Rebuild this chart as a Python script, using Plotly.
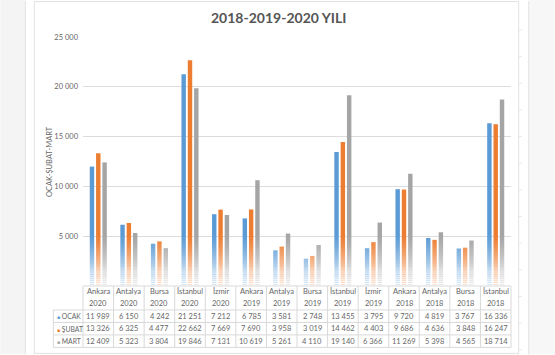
import plotly.graph_objects as go

cities = ["Ankara", "Antalya", "Bursa", "İstanbul", "İzmir",
          "Ankara", "Antalya", "Bursa", "İstanbul", "İzmir",
          "Ankara", "Antalya", "Bursa", "İstanbul"]
years = ["2020", "2020", "2020", "2020", "2020",
         "2019", "2019", "2019", "2019", "2019",
         "2018", "2018", "2018", "2018"]
ocak = [11989, 6150, 4242, 21251, 7212, 6785, 3581, 2748, 13455, 3795, 9720, 4819, 3767, 16336]
subat = [13326, 6325, 4477, 22662, 7669, 7690, 3958, 3019, 14462, 4403, 9686, 4636, 3848, 16247]
mart = [12409, 5323, 3804, 19846, 7131, 10619, 5261, 4110, 19140, 6366, 11269, 5398, 4565, 18714]
series_names = ["OCAK", "ŞUBAT", "MART"]
series_colors = ["#5b9bd5", "#ed7d31", "#a5a5a5"]
ytick_vals = [5000, 10000, 15000, 20000, 25000]
ytick_text = ["5 000", "10 000", "15 000", "20 000", "25 000"]

W, H = 555, 355
L, R, T, B = 82.7, 43.7, 37, 68.5
PW, PH = W - L - R, H - T - B
FONT = "Lato"
TXT = "#666666"


def px(x):
    return (x - L) / PW


def py(y):
    return (H - B - y) / PH


def fmt(v):
    return f"{v:,}".replace(",", " ")


cats = [f"{c} {y}" for c, y in zip(cities, years)]
n = len(cats)
colw = PW / n

fig = go.Figure()
for name, vals, col in zip(series_names, [ocak, subat, mart], series_colors):
    fig.add_trace(go.Bar(x=cats, y=vals, name=name, marker=dict(color=col, line=dict(width=0))))

shapes = []
# page background strips
shapes.append(dict(type="rect", xref="paper", yref="paper", x0=px(0), x1=px(25), y0=py(H), y1=py(0),
                   fillcolor="#f4f4f4", line=dict(width=0), layer="below"))
shapes.append(dict(type="rect", xref="paper", yref="paper", x0=px(529), x1=px(W), y0=py(H), y1=py(0),
                   fillcolor="#f7f7f7", line=dict(width=0), layer="below"))
for xv in [25, 34, 519, 529]:
    shapes.append(dict(type="line", xref="paper", yref="paper", x0=px(xv), x1=px(xv), y0=py(1), y1=py(H),
                       line=dict(color="#e2e2e2", width=1), layer="below"))
shapes.append(dict(type="line", xref="paper", yref="paper", x0=px(34), x1=px(519), y0=py(1.5), y1=py(1.5),
                   line=dict(color="#e2e2e2", width=1), layer="below"))
shapes.append(dict(type="line", xref="paper", yref="paper", x0=px(34), x1=px(519), y0=py(354), y1=py(354),
                   line=dict(color="#e2e2e2", width=1), layer="below"))
for k in range(13):
    yy = 30 + 26.7 * k
    shapes.append(dict(type="line", xref="paper", yref="paper", x0=px(519), x1=px(522), y0=py(yy), y1=py(yy),
                       line=dict(color="#e6e6e6", width=1), layer="below"))

# fade of bars toward the base
nsl = 26
top_v, bot_v = 5200, 150
for i in range(nsl):
    v0 = bot_v + (top_v - bot_v) * i / nsl
    v1 = bot_v + (top_v - bot_v) * (i + 1) / nsl
    op = 1 - (i + 0.5) / nsl
    shapes.append(dict(type="rect", xref="paper", yref="y", x0=0, x1=1, y0=v0, y1=v1,
                       fillcolor="white", opacity=op ** 1.3, line=dict(width=0), layer="above"))
shapes.append(dict(type="rect", xref="paper", yref="y", x0=0, x1=1, y0=0, y1=bot_v,
                   fillcolor="white", line=dict(width=0), layer="above"))

# data table grid
gc = "#d9d9d9"
row_lines = [310.5, 323, 335.5, 348]
tbl_left = 53
shapes.append(dict(type="line", xref="paper", yref="paper", x0=px(L), x1=px(L + PW), y0=py(286.5), y1=py(286.5),
                   line=dict(color=gc, width=1), layer="above"))
for ry in row_lines:
    shapes.append(dict(type="line", xref="paper", yref="paper", x0=px(tbl_left), x1=px(L + PW), y0=py(ry), y1=py(ry),
                       line=dict(color=gc, width=1), layer="above"))
shapes.append(dict(type="line", xref="paper", yref="paper", x0=px(tbl_left), x1=px(tbl_left), y0=py(310.5), y1=py(348),
                   line=dict(color=gc, width=1), layer="above"))
for i in range(n + 1):
    xv = L + colw * i
    shapes.append(dict(type="line", xref="paper", yref="paper", x0=px(xv), x1=px(xv), y0=py(286.5), y1=py(348),
                       line=dict(color=gc, width=1), layer="above"))

ann = []
tf = dict(family=FONT, size=7.5, color=TXT)
lf = dict(family=FONT, size=6.8, color=TXT)
for i, (c, y) in enumerate(zip(cities, years)):
    ann.append(dict(x=cats[i], xref="x", y=py(292), yref="paper", text=c, showarrow=False, font=tf,
                    xanchor="center", yanchor="middle"))
    ann.append(dict(x=cats[i], xref="x", y=py(304.5), yref="paper", text=y, showarrow=False, font=tf,
                    xanchor="center", yanchor="middle"))
    for r, vals in enumerate([ocak, subat, mart]):
        ann.append(dict(x=cats[i], xref="x", y=py(317 + 12.5 * r), yref="paper", text=fmt(vals[i]),
                        showarrow=False, font=tf, xanchor="center", yanchor="middle"))
for r, (nm, col) in enumerate(zip(series_names, series_colors)):
    ann.append(dict(x=px(54.5), xref="paper", y=py(317 + 12.5 * r), yref="paper",
                    text=f'<span style="color:{col};font-size:5px">■</span> {nm}', showarrow=False, font=lf,
                    xanchor="left", yanchor="middle"))
ann.append(dict(x=px(49), xref="paper", y=py(162), yref="paper", text="OCAK-ŞUBAT-MART", textangle=-90,
                showarrow=False, font=dict(family=FONT, size=7.5, color=TXT), xanchor="center", yanchor="middle"))
ann.append(dict(x=px(278), xref="paper", y=py(17), yref="paper", text="<b>2018-2019-2020 YILI</b>",
                showarrow=False, font=dict(family=FONT, size=14, color="#555555"), xanchor="center",
                yanchor="middle"))

fig.update_layout(
    width=W, height=H,
    margin=dict(l=L, r=R, t=T, b=B, pad=0),
    paper_bgcolor="white", plot_bgcolor="white",
    showlegend=False,
    barmode="group", bargap=0.38, bargroupgap=0.3,
    font=dict(family=FONT, size=7.5, color=TXT),
    xaxis=dict(showticklabels=False, showgrid=False, zeroline=False, showline=False, ticks=""),
    yaxis=dict(range=[0, 25000], tickvals=ytick_vals, ticktext=ytick_text, showgrid=True,
               gridcolor="#dcdcdc", gridwidth=1, zeroline=False, showline=False, ticks="",
               tickfont=dict(family=FONT, size=7.5, color=TXT), ticklabelstandoff=4),
    shapes=shapes,
    annotations=ann,
)

fig.write_html("out.html")
